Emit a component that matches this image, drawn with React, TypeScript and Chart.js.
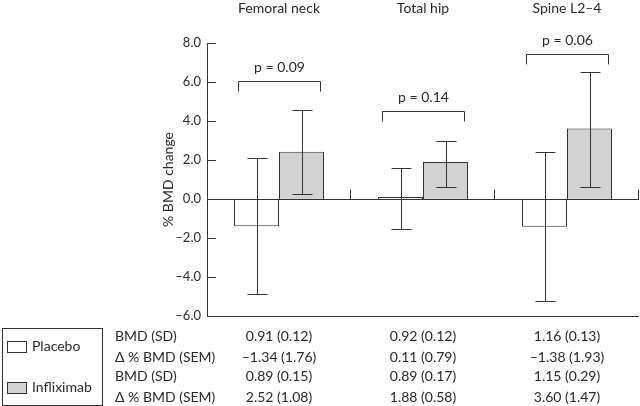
import React, { useEffect, useRef } from "react";
import { Chart, registerables } from "chart.js";

Chart.register(...registerables);

const categories = ["Femoral neck", "Total hip", "Spine L2–4"];
const placeboMean = [-1.4, 0.1, -1.42];
const placeboErrHigh = [2.1, 1.6, 2.42];
const placeboErrLow = [-4.85, -1.52, -5.23];
const infliximabMean = [2.42, 1.9, 3.62];
const infliximabErrHigh = [4.56, 2.97, 6.5];
const infliximabErrLow = [0.27, 0.63, 0.6];
const pValues = ["p = 0.09", "p = 0.14", "p = 0.06"];
const bracketLevel = [6.05, 4.5, 7.45];
const yMin = -6;
const yMax = 8;
const yStep = 2;
const yTitle = "% BMD change";
const legendLabels = ["Placebo", "Infliximab"];
const tableRowLabels = ["BMD (SD)", "Δ % BMD (SEM)", "BMD (SD)", "Δ % BMD (SEM)"];
const tableRow1 = ["0.91 (0.12)", "0.92 (0.12)", "1.16 (0.13)"];
const tableRow2 = ["–1.34 (1.76)", "0.11 (0.79)", "–1.38 (1.93)"];
const tableRow3 = ["0.89 (0.15)", "0.89 (0.17)", "1.15 (0.29)"];
const tableRow4 = ["2.52 (1.08)", "1.88 (0.58)", "3.60 (1.47)"];

const FONT = "Lato, 'DejaVu Sans', sans-serif";
const INK = "#2a2a2a";
const LINE = "#333333";
const GREY = "#d2d2d2";

export default function App() {
  const ref = useRef<HTMLCanvasElement | null>(null);

  useEffect(() => {
    if (!ref.current) return;
    const errs = [
      { hi: placeboErrHigh, lo: placeboErrLow },
      { hi: infliximabErrHigh, lo: infliximabErrLow },
    ];
    const annotations = {
      id: "annotations",
      afterDatasetsDraw(chart: any) {
        const ctx = chart.ctx;
        const y = chart.scales.y;
        const x = chart.scales.x;
        const area = chart.chartArea;
        ctx.save();
        ctx.strokeStyle = LINE;
        ctx.lineWidth = 1;
        const y0 = Math.round(y.getPixelForValue(0)) + 0.5;
        const yb = Math.round(y.getPixelForValue(yMin)) + 0.5;
        ctx.beginPath();
        ctx.moveTo(area.left, y0);
        ctx.lineTo(area.right, y0);
        ctx.moveTo(area.left, yb);
        ctx.lineTo(area.right, yb);
        ctx.stroke();
        ctx.beginPath();
        const half = (x.getPixelForValue(1) - x.getPixelForValue(0)) / 2;
        for (let i = 0; i < categories.length; i++) {
          const sx = Math.round(x.getPixelForValue(i) + half) - 0.5;
          ctx.moveTo(sx, y0);
          ctx.lineTo(sx, y0 - 10);
        }
        ctx.stroke();
        ctx.beginPath();
        for (let v = yMin; v <= yMax; v += yStep) {
          const py = Math.round(y.getPixelForValue(v)) + 0.5;
          ctx.moveTo(area.left, py);
          ctx.lineTo(area.left + 9, py);
        }
        ctx.stroke();
        ctx.beginPath();
        for (let d = 0; d < 2; d++) {
          const meta = chart.getDatasetMeta(d);
          meta.data.forEach((bar: any, i: number) => {
            const bx = Math.round(bar.x) + 0.5;
            const hy = Math.round(y.getPixelForValue(errs[d].hi[i])) + 0.5;
            const ly = Math.round(y.getPixelForValue(errs[d].lo[i])) + 0.5;
            ctx.moveTo(bx, hy);
            ctx.lineTo(bx, ly);
            ctx.moveTo(bx - 10, hy);
            ctx.lineTo(bx + 10, hy);
            ctx.moveTo(bx - 10, ly);
            ctx.lineTo(bx + 10, ly);
          });
        }
        ctx.stroke();
        const m0 = chart.getDatasetMeta(0);
        const m1 = chart.getDatasetMeta(1);
        ctx.fillStyle = INK;
        ctx.font = `14px ${FONT}`;
        ctx.textAlign = "center";
        ctx.textBaseline = "alphabetic";
        for (let i = 0; i < categories.length; i++) {
          const b0 = m0.data[i];
          const b1 = m1.data[i];
          const lx = Math.round(b0.x - b0.width / 2 + 4) + 0.5;
          const rx = Math.round(b1.x + b1.width / 2 - 3) - 0.5;
          const ty = Math.round(y.getPixelForValue(bracketLevel[i])) + 0.5;
          ctx.beginPath();
          ctx.moveTo(lx, ty + 10);
          ctx.lineTo(lx, ty);
          ctx.lineTo(rx, ty);
          ctx.lineTo(rx, ty + 10);
          ctx.stroke();
          ctx.fillText(pValues[i], (lx + rx) / 2, ty - 10);
          ctx.fillText(categories[i], x.getPixelForValue(i), 13);
        }
        ctx.save();
        ctx.translate(168, (area.top + area.bottom) / 2);
        ctx.rotate(-Math.PI / 2);
        ctx.textBaseline = "middle";
        ctx.fillText(yTitle, 0, 0);
        ctx.restore();
        ctx.strokeRect(2.5, 328.5, 100, 77);
        ctx.fillStyle = "#ffffff";
        ctx.fillRect(7.5, 341.5, 19, 11);
        ctx.strokeRect(7.5, 341.5, 19, 11);
        ctx.fillStyle = GREY;
        ctx.fillRect(7.5, 382.5, 19, 11);
        ctx.strokeRect(7.5, 382.5, 19, 11);
        ctx.fillStyle = INK;
        ctx.textAlign = "left";
        ctx.fillText(legendLabels[0], 32, 351);
        ctx.fillText(legendLabels[1], 32, 392);
        const rows = [tableRow1, tableRow2, tableRow3, tableRow4];
        const baselines = [340.5, 361.5, 381, 401.5];
        for (let r = 0; r < rows.length; r++) {
          ctx.textAlign = "left";
          ctx.fillText(tableRowLabels[r], 115, baselines[r]);
          ctx.textAlign = "center";
          for (let c = 0; c < categories.length; c++) {
            ctx.fillText(rows[r][c], x.getPixelForValue(c), baselines[r]);
          }
        }
        ctx.restore();
      },
    };

    const chart = new Chart(ref.current, {
      type: "bar",
      data: {
        labels: categories,
        datasets: [
          {
            label: legendLabels[0],
            data: placeboMean,
            backgroundColor: "#ffffff",
            borderColor: LINE,
            borderWidth: 1,
            categoryPercentage: 0.625,
            barPercentage: 1,
          },
          {
            label: legendLabels[1],
            data: infliximabMean,
            backgroundColor: GREY,
            borderColor: LINE,
            borderWidth: 1,
            categoryPercentage: 0.625,
            barPercentage: 1,
          },
        ],
      },
      options: {
        responsive: false,
        animation: false,
        devicePixelRatio: 1,
        layout: { padding: { top: 43, bottom: 90, left: 0, right: 1 } },
        plugins: { legend: { display: false }, tooltip: { enabled: false } },
        scales: {
          x: { display: false, offset: true },
          y: {
            min: yMin,
            max: yMax,
            afterFit: (s: any) => {
              s.width = 207;
            },
            grid: { display: false, drawTicks: false },
            border: { display: true, color: LINE, width: 1 },
            ticks: {
              stepSize: yStep,
              padding: 6,
              color: INK,
              font: { family: FONT, size: 13 },
              callback: (v: any) => (v < 0 ? "–" : "") + Math.abs(Number(v)).toFixed(1),
            },
          },
        },
      },
      plugins: [annotations],
    });
    return () => chart.destroy();
  }, []);

  return (
    <div style={{ position: "absolute", left: 0, top: 0, width: 640, height: 406, background: "#fff" }}>
      <canvas ref={ref} width={640} height={406} />
    </div>
  );
}
